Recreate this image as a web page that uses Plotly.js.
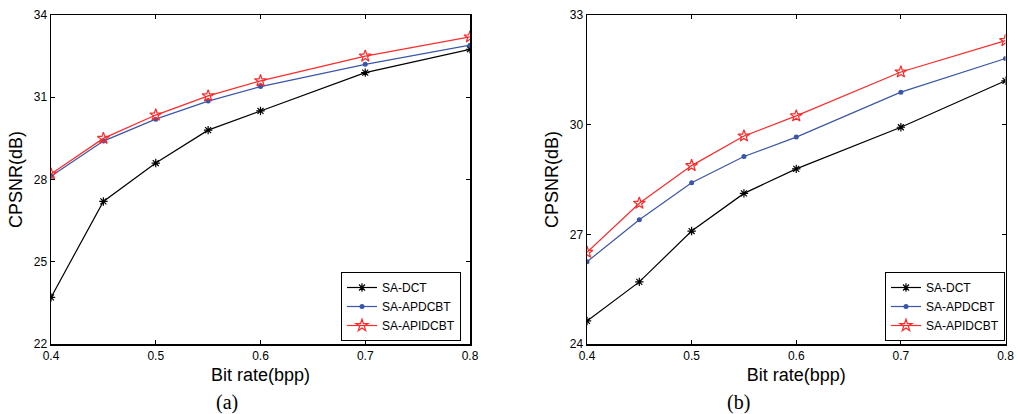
<!DOCTYPE html>
<html><head><meta charset="utf-8">
<script src="https://cdn.plot.ly/plotly-3.0.1.min.js"></script>
<style>html,body{margin:0;padding:0;background:#fff}#chart{width:1018px;height:414px}</style>
</head><body><div id="chart"></div>
<script>
const bitRates = [0.4, 0.45, 0.5, 0.55, 0.6, 0.7, 0.8];
const seriesNames = ['SA-DCT', 'SA-APDCBT', 'SA-APIDCBT'];
// Panel (a)
const a_DCT = [23.7, 27.2, 28.6, 29.8, 30.5, 31.9, 32.75];
const a_APDCBT = [28.12, 29.4, 30.2, 30.86, 31.39, 32.2, 32.9];
const a_APIDCBT = [28.2, 29.5, 30.35, 31.05, 31.6, 32.5, 33.2];
// Panel (b)
const b_DCT = [24.63, 25.7, 27.09, 28.12, 28.79, 29.93, 31.2];
const b_APDCBT = [26.25, 27.4, 28.41, 29.13, 29.66, 30.89, 31.81];
const b_APIDCBT = [26.51, 27.85, 28.88, 29.69, 30.24, 31.44, 32.3];
const aTicks = [22, 25, 28, 31, 34];
const bTicks = [24, 27, 30, 33];
const xTicks = [0.4, 0.5, 0.6, 0.7, 0.8];

const colors = ['#000000', '#3a56a8', '#ff2a2a'];
const markers = [
  {symbol: 'asterisk-open', size: 7, line: {width: 1.2, color: colors[0]}, color: colors[0]},
  {symbol: 'circle', size: 5, color: colors[1], line: {width: 0}},
  {symbol: 'star-open', size: 9, line: {width: 1.2, color: colors[2]}, color: colors[2]}
];

function mk(y, i, xa, ya, leg) {
  return {x: bitRates, y: y, name: seriesNames[i], type: 'scatter', mode: 'lines+markers',
    xaxis: xa, yaxis: ya, legend: leg,
    line: {color: colors[i], width: 1.2}, marker: markers[i]};
}
const data = [
  mk(a_DCT, 0, 'x', 'y', 'legend'), mk(a_APDCBT, 1, 'x', 'y', 'legend'), mk(a_APIDCBT, 2, 'x', 'y', 'legend'),
  mk(b_DCT, 0, 'x2', 'y2', 'legend2'), mk(b_APDCBT, 1, 'x2', 'y2', 'legend2'), mk(b_APIDCBT, 2, 'x2', 'y2', 'legend2')
];

const W = 1018;
const axBase = {showgrid: false, zeroline: false, showline: true, linecolor: '#000', linewidth: 1.5,
  mirror: 'ticks', ticks: 'inside', ticklen: 4, tickcolor: '#000', tickwidth: 1,
  tickfont: {family: 'Liberation Sans, Arial', size: 12, color: '#000'}};
const xTitle = {text: 'Bit rate(bpp)', font: {family: 'Liberation Sans, Arial', size: 18, color: '#000'}, standoff: 6};
const yTitle = {text: 'CPSNR(dB)', font: {family: 'Liberation Sans, Arial', size: 18, color: '#000'}, standoff: 6};
const legBase = {bgcolor: '#fff', bordercolor: '#000', borderwidth: 1, xanchor: 'right', yanchor: 'middle',
  font: {family: 'Liberation Sans, Arial', size: 12, color: '#000'}, tracegroupgap: 0, itemsizing: 'trace',
  entrywidth: 88, entrywidthmode: 'pixels'};

const layout = {
  width: 1018, height: 414,
  margin: {l: 0, r: 0, t: 15, b: 70},
  paper_bgcolor: '#fff', plot_bgcolor: '#fff',
  xaxis: Object.assign({}, axBase, {domain: [51/W, 470/W], range: [0.4, 0.8], tickvals: xTicks, ticktext: xTicks.map(String), title: xTitle, anchor: 'y'}),
  yaxis: Object.assign({}, axBase, {range: [22, 34], tickvals: aTicks, title: yTitle, anchor: 'x'}),
  xaxis2: Object.assign({}, axBase, {domain: [587/W, 1005.5/W], range: [0.4, 0.8], tickvals: xTicks, ticktext: xTicks.map(String), title: xTitle, anchor: 'y2'}),
  yaxis2: Object.assign({}, axBase, {range: [24, 33], tickvals: bTicks, title: yTitle, anchor: 'x2'}),
  legend: Object.assign({}, legBase, {x: 461/W, y: (344-306.5)/329}),
  legend2: Object.assign({}, legBase, {x: 1005/W, y: (344-306.5)/329}),
  showlegend: true,
  annotations: [
    {text: '(a)', xref: 'paper', yref: 'paper', x: 214/W, y: (344-402)/329, yanchor: 'middle', showarrow: false,
     font: {family: 'Liberation Serif, Times New Roman', size: 20, color: '#000'}},
    {text: '(b)', xref: 'paper', yref: 'paper', x: 752/W, y: (344-402)/329, yanchor: 'middle', showarrow: false,
     font: {family: 'Liberation Serif, Times New Roman', size: 20, color: '#000'}}
  ]
};
Plotly.newPlot('chart', data, layout, {displayModeBar: false, staticPlot: true});
</script></body></html>
